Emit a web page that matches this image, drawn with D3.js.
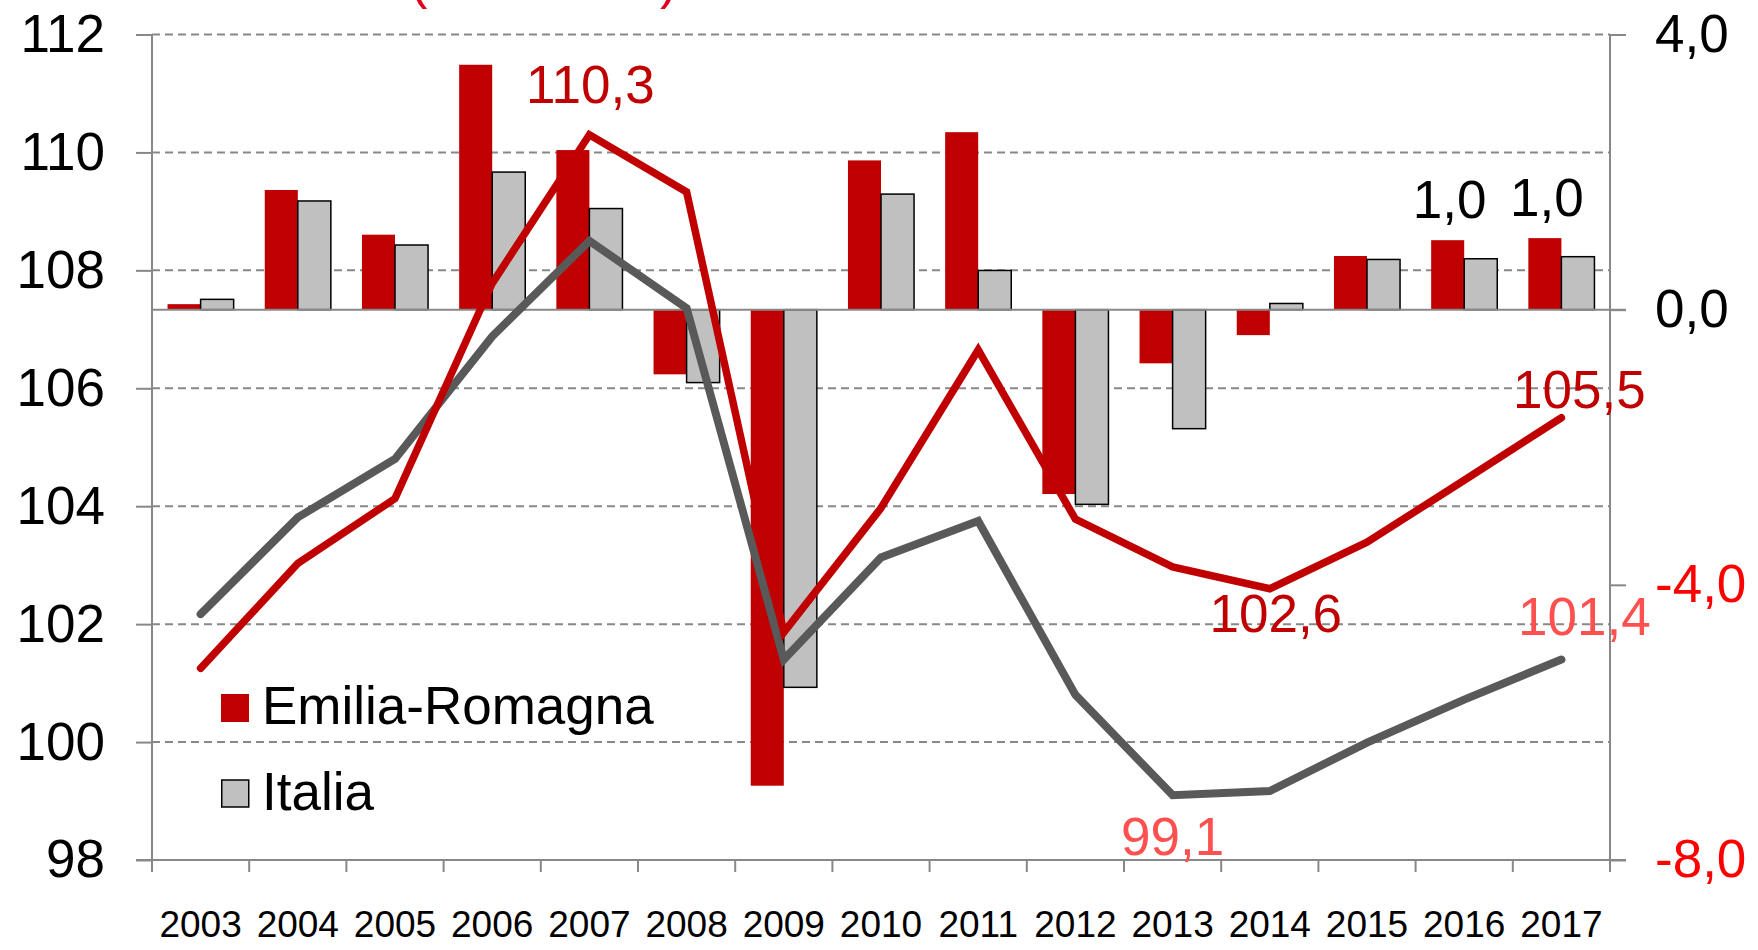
<!DOCTYPE html>
<html>
  <head>
    <meta charset="UTF-8" />
    <script src="https://d3js.org/d3.v7.min.js"></script>
    <style>
      body { margin: 0; background: #fff; }
      text { font-family: "Liberation Sans", Arial, sans-serif; }
    </style>
    <title>Emilia-Romagna / Italia</title>
  </head>
  <body>
    <div id="chart"></div>
    <script>
      // dati
      const years = [2003, 2004, 2005, 2006, 2007, 2008, 2009, 2010, 2011, 2012, 2013, 2014, 2015, 2016, 2017];
      // variazioni % (barre, asse destro)
      const erGrowth = [0.08, 1.74, 1.09, 3.56, 2.32, -0.94, -6.92, 2.17, 2.58, -2.68, -0.78, -0.37, 0.78, 1.01, 1.04];
      const itGrowth = [0.15, 1.58, 0.94, 2.0, 1.47, -1.06, -5.49, 1.68, 0.57, -2.83, -1.73, 0.09, 0.73, 0.74, 0.77];
      // numeri indice (linee, asse sinistro)
      const erIndex = [101.25, 103.03, 104.13, 107.78, 110.3, 109.33, 101.86, 103.97, 106.65, 103.78, 102.97, 102.6, 103.39, 104.44, 105.5];
      const itIndex = [102.17, 103.81, 104.8, 106.88, 108.5, 107.36, 101.4, 103.13, 103.75, 100.8, 99.1, 99.17, 99.99, 100.72, 101.4];
      const leftTicks = [98, 100, 102, 104, 106, 108, 110, 112];
      const rightTicks = [4, 0, -4, -8];
      const seriesNames = ["Emilia-Romagna", "Italia"];
      const titleText = "(2000=100)";

      const w = 1758, h = 950;
      const plotL = 152, plotR = 1610, plotT = 34.5, plotB = 860;
      const axisColor = "#888888";
      const red = "#C00000", lightRed = "#FF5050", gray = "#595959";
      const fmt = (v) => d3.format(".1f")(v).replace(".", ",").replace("\u2212", "-");

      const svg = d3.select("#chart").append("svg")
        .attr("width", w).attr("height", h)
        .style("background", "#fff");

      // scale
      const x0 = d3.scaleBand().domain(years).range([plotL, plotR])
        .paddingInner(0.32).paddingOuter(0.16);
      const x1 = d3.scaleBand().domain(["er", "it"]).range([0, x0.bandwidth()]);
      const cx = (yr) => x0(yr) + x0.bandwidth() / 2;
      const yL = d3.scaleLinear().domain([98, 112]).range([plotB, plotT]);
      const yR = d3.scaleLinear().domain([-8, 4]).range([plotB, plotT]);

      // titolo (tagliato in alto come nell'originale)
      svg.append("text").attr("x", 410).attr("y", -2.5)
        .attr("font-size", 52).attr("fill", "#E0001B").text(titleText);

      // griglia tratteggiata
      svg.append("g").selectAll("line")
        .data(leftTicks.filter((d) => d !== 98))
        .join("line")
        .attr("x1", plotL).attr("x2", plotR)
        .attr("y1", (d) => yL(d)).attr("y2", (d) => yL(d))
        .attr("stroke", axisColor).attr("stroke-width", 2)
        .attr("stroke-dasharray", "8,5");

      // barre
      const barData = years.map((yr, i) => ({ year: yr, er: erGrowth[i], it: itGrowth[i] }));
      const groups = svg.append("g").selectAll("g").data(barData).join("g")
        .attr("transform", (d) => "translate(" + x0(d.year) + ",0)");
      groups.append("rect")
        .attr("x", x1("er")).attr("width", x1.bandwidth())
        .attr("y", (d) => yR(Math.max(0, d.er)))
        .attr("height", (d) => Math.abs(yR(d.er) - yR(0)))
        .attr("fill", red);
      groups.append("rect")
        .attr("x", x1("it")).attr("width", x1.bandwidth())
        .attr("y", (d) => yR(Math.max(0, d.it)))
        .attr("height", (d) => Math.abs(yR(d.it) - yR(0)))
        .attr("fill", "#C0C0C0").attr("stroke", "#000").attr("stroke-width", 1.5);

      // asse sinistro
      svg.append("g").attr("transform", "translate(" + plotL + ",0)")
        .call(d3.axisLeft(yL).tickValues(leftTicks).tickSize(16).tickPadding(31).tickFormat((d) => d))
        .call((g) => g.select(".domain").remove())
        .call((g) => g.selectAll("line").attr("stroke", axisColor).attr("stroke-width", 2))
        .call((g) => g.selectAll("text").attr("font-size", 53).attr("fill", "#000")
          .attr("font-family", "Liberation Sans, Arial, sans-serif"));

      // asse destro
      svg.append("g").attr("transform", "translate(" + plotR + ",0)")
        .call(d3.axisRight(yR).tickValues(rightTicks).tickSize(16).tickPadding(29).tickFormat(fmt))
        .call((g) => g.select(".domain").remove())
        .call((g) => g.selectAll("line").attr("stroke", axisColor).attr("stroke-width", 2))
        .call((g) => g.selectAll("text").attr("font-size", 53)
          .attr("fill", (d) => (d < 0 ? "#FF0000" : "#000"))
          .attr("font-family", "Liberation Sans, Arial, sans-serif"));

      // linee degli assi
      svg.append("line").attr("x1", plotL).attr("x2", plotL).attr("y1", plotT).attr("y2", plotB + 12)
        .attr("stroke", axisColor).attr("stroke-width", 2);
      svg.append("line").attr("x1", plotR).attr("x2", plotR).attr("y1", plotT).attr("y2", plotB + 12)
        .attr("stroke", axisColor).attr("stroke-width", 2);
      svg.append("line").attr("x1", plotL - 16).attr("x2", plotR + 16).attr("y1", plotB).attr("y2", plotB)
        .attr("stroke", axisColor).attr("stroke-width", 2);
      // linea dello zero
      svg.append("line").attr("x1", plotL).attr("x2", plotR + 16).attr("y1", yR(0)).attr("y2", yR(0))
        .attr("stroke", axisColor).attr("stroke-width", 2);

      // asse x: tacche ai confini delle categorie
      svg.append("g").selectAll("line")
        .data(years.concat([null]))
        .join("line")
        .attr("x1", (d, i) => plotL + i * x0.step())
        .attr("x2", (d, i) => plotL + i * x0.step())
        .attr("y1", plotB).attr("y2", plotB + 12)
        .attr("stroke", axisColor).attr("stroke-width", 2);
      svg.append("g").selectAll("text").data(years).join("text")
        .attr("x", (d) => cx(d)).attr("y", 937)
        .attr("text-anchor", "middle").attr("font-size", 37).attr("fill", "#000")
        .text((d) => d);

      // linee
      const line = d3.line().x((d) => cx(d[0])).y((d) => yL(d[1]));
      svg.append("path").datum(years.map((yr, i) => [yr, itIndex[i]]))
        .attr("d", line).attr("fill", "none").attr("stroke", gray)
        .attr("stroke-width", 8).attr("stroke-linecap", "round").attr("stroke-linejoin", "miter");
      svg.append("path").datum(years.map((yr, i) => [yr, erIndex[i]]))
        .attr("d", line).attr("fill", "none").attr("stroke", red)
        .attr("stroke-width", 7.5).attr("stroke-linecap", "round").attr("stroke-linejoin", "miter");

      // etichette
      function labelLine(series, yr, color, dx, dy) {
        const i = years.indexOf(yr);
        svg.append("text")
          .attr("x", cx(yr) + dx).attr("y", yL(series[i]) + dy)
          .attr("text-anchor", "middle").attr("font-size", 53).attr("fill", color)
          .text(fmt(series[i]));
      }
      labelLine(erIndex, 2007, red, 1, -32);
      labelLine(erIndex, 2017, red, 18, -10);
      labelLine(erIndex, 2014, red, 6, 43);
      labelLine(itIndex, 2017, lightRed, 23, -25);
      labelLine(itIndex, 2013, lightRed, 0, 60);

      function labelBar(yr, dy) {
        const i = years.indexOf(yr);
        svg.append("text")
          .attr("x", x0(yr) + x1("er") + x1.bandwidth() / 2 + 2)
          .attr("y", yR(erGrowth[i]) + dy)
          .attr("text-anchor", "middle").attr("font-size", 53).attr("fill", "#000")
          .text(fmt(erGrowth[i]));
      }
      labelBar(2016, -22);
      labelBar(2017, -22);

      // legenda
      const legend = svg.append("g").attr("transform", "translate(221,694)");
      legend.append("rect").attr("x", 0).attr("y", 0).attr("width", 28).attr("height", 28).attr("fill", red);
      legend.append("rect").attr("x", 0.75).attr("y", 86).attr("width", 27).attr("height", 27)
        .attr("fill", "#C0C0C0").attr("stroke", "#000").attr("stroke-width", 1.5);
      legend.selectAll("text").data(seriesNames).join("text")
        .attr("x", 41).attr("y", (d, i) => 30 + i * 85.5)
        .attr("font-size", 53).attr("fill", "#000")
        .text((d) => d);
    </script>
  </body>
</html>
